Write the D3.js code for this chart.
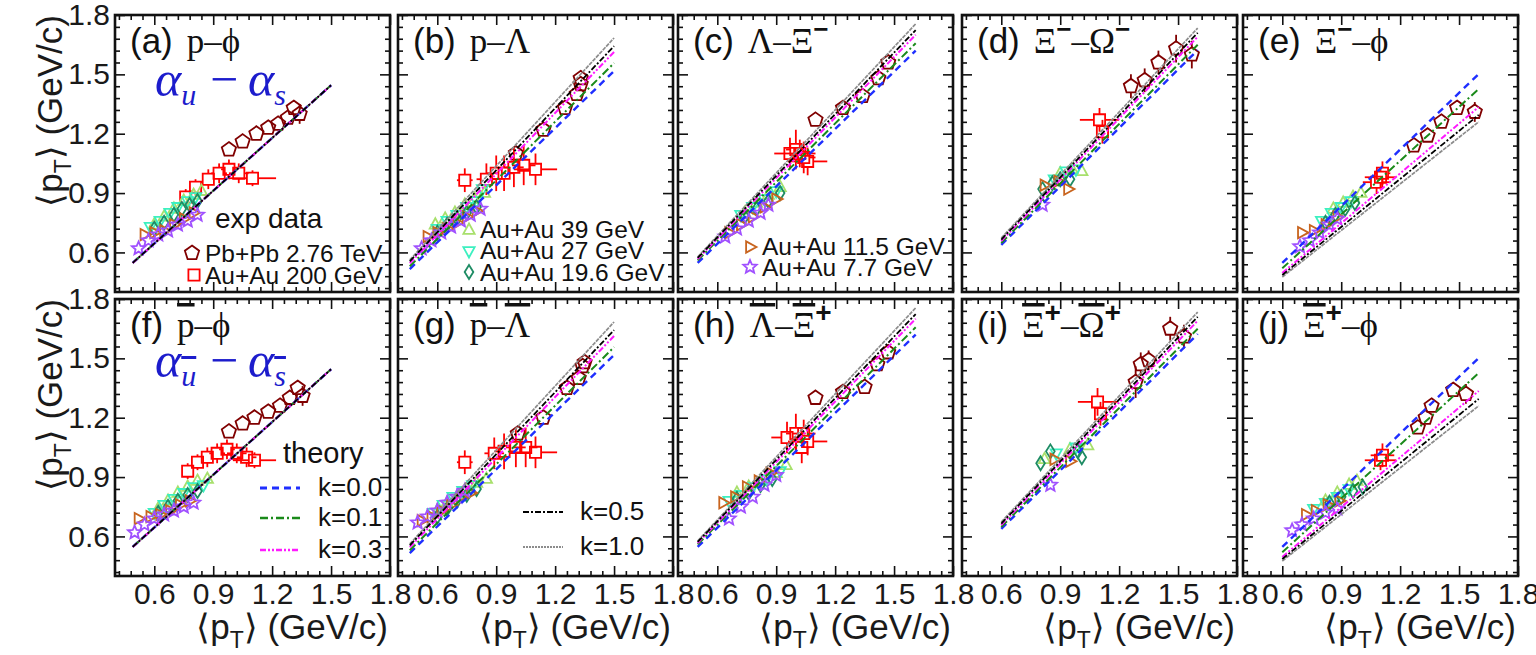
<!DOCTYPE html>
<html><head><meta charset="utf-8">
<script src="https://cdn.jsdelivr.net/npm/d3@7"></script>
<style>body{margin:0;background:#fff}svg{display:block}</style>
</head><body><svg id="c" width="1536" height="655"></svg>
<script>
// ---------------- data ----------------
const seriesNames = ["Pb+Pb 2.76 TeV","Au+Au 200 GeV","Au+Au 39 GeV","Au+Au 27 GeV","Au+Au 19.6 GeV","Au+Au 11.5 GeV","Au+Au 7.7 GeV"];
const kLabels = ["k=0.0","k=0.1","k=0.3","k=0.5","k=1.0"];
const xTickValues = [0.6,0.9,1.2,1.5,1.8];
const yTickValues = [0.6,0.9,1.2,1.5,1.8];
const axisDomain = [0.4,1.8];
const panelIds = ["(a)","(b)","(c)","(d)","(e)","(f)","(g)","(h)","(i)","(j)"];
// title segments: [text, flags] b = overline, s = superscript
const panelTitles = [
  [["p",""],["–",""],["ϕ",""]],
  [["p",""],["–",""],["Λ",""]],
  [["Λ",""],["–",""],["Ξ",""],["−","s"]],
  [["Ξ",""],["−","s"],["–",""],["Ω",""],["−","s"]],
  [["Ξ",""],["−","s"],["–",""],["ϕ",""]],
  [["p","b"],["–",""],["ϕ",""]],
  [["p","b"],["–",""],["Λ","b"]],
  [["Λ","b"],["–",""],["Ξ","b"],["+","s"]],
  [["Ξ","b"],["+","s"],["–",""],["Ω","b"],["+","s"]],
  [["Ξ","b"],["+","s"],["–",""],["ϕ",""]]
];
const clusterErr = [0.012, 0.015];
// rows: [series, x, y, ex, ey]
const dataA = [[0,0.98,1.12,0.01,0.025],[0,1.05,1.16,0.01,0.025],[0,1.12,1.2,0.01,0.025],[0,1.18,1.23,0.01,0.025],[0,1.23,1.25,0.01,0.025],[0,1.28,1.28,0.01,0.03],[0,1.31,1.33,0.015,0.035],[0,1.34,1.3,0.015,0.05],
 [1,0.76,0.88,0.02,0.04],[1,0.81,0.93,0.03,0.04],[1,0.875,0.97,0.03,0.05],[1,0.93,1.0,0.04,0.05],[1,0.98,1.02,0.04,0.05],[1,1.03,1.0,0.05,0.05],[1,1.1,0.975,0.12,0.04],
 [2,0.6,0.74],[2,0.65,0.78],[2,0.7,0.82],[2,0.75,0.86],[2,0.8,0.89],[2,0.84,0.91],
 [3,0.58,0.73],[3,0.63,0.76],[3,0.68,0.8],[3,0.72,0.83],[3,0.77,0.86],[3,0.81,0.88],
 [4,0.6,0.72],[4,0.65,0.75],[4,0.7,0.79],[4,0.74,0.82],[4,0.78,0.84],[4,0.82,0.86],
 [5,0.55,0.69],[5,0.6,0.7],[5,0.65,0.71],[5,0.7,0.74],[5,0.75,0.77],[5,0.8,0.8],
 [6,0.52,0.62],[6,0.57,0.66],[6,0.62,0.69],[6,0.67,0.71],[6,0.72,0.74],[6,0.77,0.76],[6,0.82,0.79]];
const dataB = [[0,1.0,1.1,0.01,0.02],[0,1.14,1.22,0.01,0.02],[0,1.25,1.33,0.01,0.02],[0,1.31,1.4,0.01,0.025],[0,1.33,1.45,0.01,0.03],[0,1.33,1.48,0.01,0.03],
 [1,0.74,0.965,0.04,0.06],[1,0.85,0.97,0.05,0.08],[1,0.9,1.0,0.05,0.09],[1,0.94,1.0,0.05,0.09],[1,0.99,1.03,0.05,0.1],[1,1.04,1.04,0.06,0.1],[1,1.1,1.02,0.11,0.08],
 [2,0.59,0.74],[2,0.64,0.77],[2,0.69,0.8],[2,0.74,0.84],[2,0.79,0.87],[2,0.84,0.9],
 [3,0.6,0.72],[3,0.65,0.76],[3,0.7,0.79],[3,0.75,0.83],[3,0.8,0.86],[3,0.83,0.92],
 [4,0.6,0.7],[4,0.65,0.74],[4,0.7,0.77],[4,0.75,0.8],[4,0.8,0.83],
 [5,0.55,0.68],[5,0.6,0.7],[5,0.65,0.72],[5,0.7,0.75],[5,0.75,0.78],[5,0.8,0.81],
 [6,0.52,0.62],[6,0.57,0.66],[6,0.62,0.7],[6,0.67,0.73],[6,0.72,0.76],[6,0.77,0.79],[6,0.82,0.82]];
const dataC = [[0,1.1,1.27,0.01,0.02],[0,1.24,1.33,0.01,0.02],[0,1.34,1.39,0.01,0.02],[0,1.42,1.48,0.01,0.02],[0,1.47,1.56,0.01,0.025],
 [1,0.97,1.1,0.08,0.08],[1,1.0,1.12,0.05,0.1],[1,1.02,1.1,0.08,0.07],[1,1.04,1.08,0.06,0.08],[1,1.06,1.06,0.1,0.07],
 [2,0.74,0.8],[2,0.8,0.85],[2,0.86,0.89],[2,0.92,0.93],
 [3,0.72,0.79],[3,0.78,0.83],[3,0.84,0.87],[3,0.9,0.91],
 [4,0.74,0.78],[4,0.8,0.82],[4,0.86,0.86],[4,0.92,0.9],
 [5,0.66,0.7],[5,0.72,0.74],[5,0.78,0.78],[5,0.84,0.83],[5,0.9,0.87],
 [6,0.64,0.68],[6,0.7,0.72],[6,0.76,0.76],[6,0.82,0.8],[6,0.86,0.84]];
const dataD = [[0,1.26,1.44,0.01,0.06],[0,1.33,1.47,0.01,0.06],[0,1.4,1.56,0.01,0.06],[0,1.49,1.63,0.01,0.07],[0,1.57,1.6,0.01,0.07],
 [1,1.1,1.27,0.1,0.06],[1,1.115,1.21,0.03,0.06],
 [2,0.9,1.0],[2,0.96,1.02],[2,1.01,1.01],
 [3,0.87,0.97],[3,0.93,1.01],[3,0.98,1.02],
 [4,0.81,0.92],[4,0.86,0.95],[4,0.9,0.97],[4,0.95,0.97],
 [5,0.82,0.94],[5,0.89,0.96],[5,0.94,0.92],
 [6,0.81,0.84]];
const dataE = [[0,1.27,1.14,0.01,0.03],[0,1.34,1.19,0.01,0.03],[0,1.41,1.26,0.01,0.03],[0,1.49,1.33,0.01,0.035],[0,1.58,1.31,0.01,0.05],
 [1,1.08,0.955,0.07,0.06],[1,1.1,0.98,0.08,0.05],[1,1.11,1.0,0.04,0.06],
 [2,0.86,0.82],[2,0.91,0.85],[2,0.96,0.88],[2,1.0,0.9],
 [3,0.8,0.76],[3,0.85,0.8],[3,0.9,0.83],[3,0.95,0.86],
 [4,0.82,0.75],[4,0.87,0.79],[4,0.92,0.82],[4,0.97,0.85],
 [5,0.7,0.7],[5,0.76,0.71],[5,0.82,0.74],[5,0.88,0.78],
 [6,0.69,0.63],[6,0.74,0.66],[6,0.79,0.7],[6,0.84,0.74],[6,0.88,0.77]];
const dataF = [[0,0.98,1.13,0.01,0.025],[0,1.05,1.17,0.01,0.025],[0,1.11,1.2,0.01,0.025],[0,1.18,1.23,0.01,0.025],[0,1.24,1.26,0.01,0.025],[0,1.29,1.3,0.01,0.03],[0,1.33,1.35,0.015,0.035],[0,1.355,1.31,0.015,0.05],
 [1,0.77,0.93,0.02,0.04],[1,0.82,0.975,0.03,0.04],[1,0.87,1.0,0.03,0.05],[1,0.92,1.02,0.04,0.05],[1,0.97,1.04,0.04,0.05],[1,1.02,1.02,0.05,0.05],[1,1.07,1.0,0.05,0.05],[1,1.11,0.985,0.11,0.04],
 [2,0.62,0.74],[2,0.67,0.78],[2,0.72,0.82],[2,0.77,0.85],[2,0.82,0.88],[2,0.87,0.89],
 [3,0.6,0.72],[3,0.65,0.76],[3,0.7,0.79],[3,0.75,0.82],[3,0.8,0.85],[3,0.85,0.86],
 [4,0.62,0.72],[4,0.67,0.75],[4,0.72,0.78],[4,0.77,0.81],[4,0.82,0.83],
 [5,0.52,0.69],[5,0.58,0.7],[5,0.63,0.71],[5,0.68,0.73],[5,0.73,0.76],[5,0.78,0.78],
 [6,0.5,0.62],[6,0.55,0.66],[6,0.6,0.69],[6,0.65,0.71],[6,0.7,0.73],[6,0.75,0.75],[6,0.8,0.77]];
const dataG = [[0,1.01,1.12,0.01,0.02],[0,1.14,1.2,0.01,0.02],[0,1.26,1.35,0.01,0.02],[0,1.32,1.4,0.01,0.025],[0,1.34,1.46,0.01,0.03],[0,1.35,1.48,0.01,0.03],
 [1,0.74,0.975,0.04,0.06],[1,0.89,1.02,0.05,0.08],[1,0.94,1.03,0.05,0.09],[1,1.0,1.05,0.05,0.1],[1,1.05,1.05,0.06,0.1],[1,1.1,1.025,0.11,0.08],
 [2,0.6,0.73],[2,0.65,0.77],[2,0.7,0.8],[2,0.75,0.84],[2,0.8,0.87],[2,0.85,0.89],
 [3,0.58,0.72],[3,0.63,0.76],[3,0.68,0.8],[3,0.73,0.83],[3,0.78,0.86],
 [4,0.6,0.7],[4,0.65,0.74],[4,0.7,0.78],[4,0.75,0.81],[4,0.8,0.84],
 [5,0.52,0.68],[5,0.57,0.7],[5,0.62,0.73],[5,0.67,0.76],[5,0.72,0.8],[5,0.77,0.82],
 [6,0.5,0.67],[6,0.55,0.7],[6,0.6,0.73],[6,0.65,0.77],[6,0.7,0.8],[6,0.74,0.83]];
const dataH = [[0,1.1,1.3,0.01,0.02],[0,1.24,1.33,0.01,0.02],[0,1.35,1.355,0.01,0.02],[0,1.415,1.47,0.01,0.02],[0,1.47,1.53,0.01,0.025],
 [1,0.955,1.1,0.08,0.08],[1,1.0,1.12,0.05,0.1],[1,1.04,1.12,0.06,0.07],[1,1.03,1.05,0.04,0.08],[1,1.06,1.08,0.1,0.07],
 [2,0.7,0.82],[2,0.76,0.85],[2,0.82,0.88],[2,0.9,0.92],[2,0.95,0.96],
 [3,0.66,0.78],[3,0.72,0.81],[3,0.78,0.85],[3,0.85,0.89],[3,0.92,0.93],
 [4,0.7,0.79],[4,0.76,0.82],[4,0.82,0.86],[4,0.88,0.89],
 [5,0.63,0.77],[5,0.69,0.8],[5,0.75,0.85],[5,0.81,0.88],[5,0.87,0.92],
 [6,0.66,0.69],[6,0.72,0.75],[6,0.78,0.8],[6,0.84,0.86],[6,0.9,0.91]];
const dataI = [[0,1.284,1.38,0.01,0.08],[0,1.31,1.47,0.01,0.06],[0,1.35,1.49,0.01,0.05],[0,1.46,1.65,0.01,0.06],[0,1.53,1.61,0.01,0.06],
 [1,1.09,1.28,0.1,0.07],[1,1.105,1.22,0.03,0.06],
 [2,0.82,0.99],[2,0.95,1.04],[2,1.04,1.06],
 [3,0.88,1.02],[3,0.98,1.05],
 [4,0.8,0.97],[4,0.85,1.03],[4,0.99,1.03],[4,1.01,1.0],
 [5,0.87,0.99],[5,0.95,0.98],
 [6,0.85,0.86]];
const dataJ = [[0,1.29,1.15,0.01,0.03],[0,1.33,1.2,0.01,0.03],[0,1.36,1.26,0.01,0.03],[0,1.47,1.34,0.01,0.035],[0,1.535,1.32,0.01,0.05],
 [1,1.1,0.985,0.08,0.05],[1,1.11,1.01,0.06,0.06],
 [2,0.82,0.78],[2,0.88,0.82],[2,0.94,0.86],[2,0.98,0.88],
 [3,0.76,0.74],[3,0.82,0.77],[3,0.88,0.8],[3,0.94,0.84],
 [4,0.84,0.77],[4,0.9,0.8],[4,0.96,0.83],[4,1.01,0.85],
 [5,0.72,0.71],[5,0.77,0.73],[5,0.83,0.76],[5,0.89,0.78],
 [6,0.65,0.63],[6,0.7,0.66],[6,0.76,0.69],[6,0.82,0.72],[6,0.88,0.74]];
const panelData = [dataA,dataB,dataC,dataD,dataE,dataF,dataG,dataH,dataI,dataJ];
// theory lines per column (same for both rows): x range, y at start/end for k = 0.0,0.1,0.3,0.5,1.0
const theoryXRange = [[0.49,1.5],[0.46,1.5],[0.5,1.61],[0.6,1.6],[0.6,1.6]];
const theoryYStart = [[0.547,0.547,0.547,0.547,0.547],[0.516,0.53,0.545,0.555,0.562],[0.547,0.56,0.567,0.572,0.577],[0.638,0.648,0.658,0.665,0.673],[0.547,0.52,0.496,0.486,0.476]];
const theoryYEnd = [[1.445,1.445,1.445,1.445,1.445],[1.517,1.557,1.613,1.643,1.684],[1.62,1.657,1.70,1.724,1.755],[1.623,1.65,1.69,1.71,1.734],[1.502,1.426,1.335,1.295,1.26]];

// ---------------- styles ----------------
const seriesColors = ["#800000","#ff0000","#a8e06c","#3cf0c0","#1e8c64","#c8641e","#a050ff"];
const seriesShapes = ["pentagon","square","triUp","triDown","diamond","triRight","star"];
const kColors = ["#1f2fff","#1a8a1a","#ff1aff","#000000","#8c8c8c"];
const kDash = ["7,5","8,3,2,3","6,2,2,2,2,2","6,2,2,2","4,1"];
const kLegendDash = ["7,5","8,3,2,3","6,2,2,2,2,2","6,2,2,2","2,1"];
const kWidth = [2.4,2,2,1.8,1.7];
const kDrawOrder = [4,0,1,2,3];
const sans = "'Liberation Sans', Arial, Helvetica, sans-serif";
const serif = "'Liberation Serif', 'Times New Roman', serif";
const blueText = "#1c1ccc";

const svg = d3.select("#c");
const colLeft = [115, 398, 678, 962, 1243];
const rowTop = [15, 299];
const PW = 275, PH = 277;

function shapePoints(type, r) {
  const P = [];
  if (type === "pentagon") { for (let k=0;k<5;k++){const a=-Math.PI/2+k*2*Math.PI/5; P.push([r*Math.cos(a), r*Math.sin(a)]);} }
  else if (type === "square") { const s=r*0.8; P.push([-s,-s],[s,-s],[s,s],[-s,s]); }
  else if (type === "triUp") { P.push([0,-r],[r*0.87,r*0.6],[-r*0.87,r*0.6]); }
  else if (type === "triDown") { P.push([0,r],[r*0.87,-r*0.6],[-r*0.87,-r*0.6]); }
  else if (type === "triRight") { P.push([r,0],[-r*0.6,-r*0.87],[-r*0.6,r*0.87]); }
  else if (type === "diamond") { P.push([0,-r],[r*0.62,0],[0,r],[-r*0.62,0]); }
  else if (type === "star") { for (let k=0;k<10;k++){const a=-Math.PI/2+k*Math.PI/5; const rr=k%2?r*0.45:r; P.push([rr*Math.cos(a), rr*Math.sin(a)]);} }
  return P;
}
const markerR = [7.5,7,6.5,6.5,7,6.5,7];
const closedLine = d3.line().curve(d3.curveLinearClosed);
function drawMarker(g, s, px, py) {
  g.append("path").attr("d", closedLine(shapePoints(seriesShapes[s], markerR[s])))
    .attr("transform", `translate(${px},${py})`)
    .attr("fill","none").attr("stroke", seriesColors[s]).attr("stroke-width",1.8);
}

panelData.forEach((rows, i) => {
  const col = i % 5, row = Math.floor(i / 5);
  const left = colLeft[col], top = rowTop[row];
  const x = d3.scaleLinear().domain(axisDomain).range([left, left+PW]);
  const y = d3.scaleLinear().domain(axisDomain).range([top+PH, top]);
  const g = svg.append("g");
  const clipId = "clip"+i;
  g.append("clipPath").attr("id", clipId).append("rect").attr("x",left).attr("y",top).attr("width",PW).attr("height",PH);
  const plot = g.append("g").attr("clip-path", `url(#${clipId})`);

  rows.forEach(r => {
    const s = r[0], px = x(r[1]), py = y(r[2]);
    const ex = r.length > 3 ? r[3] : clusterErr[0];
    const ey = r.length > 3 ? r[4] : clusterErr[1];
    const rr = markerR[s] * 0.8;
    const x0 = x(r[1]-ex), x1 = x(r[1]+ex), y0 = y(r[2]-ey), y1 = y(r[2]+ey);
    const segs = [];
    if (px - x0 > rr) segs.push([x0,py,px-rr,py]);
    if (x1 - px > rr) segs.push([px+rr,py,x1,py]);
    if (y0 - py > rr) segs.push([px,py+rr,px,y0]);
    if (py - y1 > rr) segs.push([px,y1,px,py-rr]);
    segs.forEach(sg => plot.append("line").attr("x1",sg[0]).attr("y1",sg[1]).attr("x2",sg[2]).attr("y2",sg[3])
      .attr("stroke", seriesColors[s]).attr("stroke-width",1.8));
    drawMarker(plot, s, px, py);
  });

  const line = d3.line().x(d => x(d[0])).y(d => y(d[1]));
  kDrawOrder.forEach(k => {
    const pts = [[theoryXRange[col][0], theoryYStart[col][k]], [theoryXRange[col][1], theoryYEnd[col][k]]];
    plot.append("path").attr("d", line(pts)).attr("fill","none")
      .attr("stroke", kColors[k]).attr("stroke-width", kWidth[k]).attr("stroke-dasharray", kDash[k]);
  });

  const minorVals = d3.range(-3, 21).filter(j => j % 5 !== 0).map(j => +(0.6 + 0.06*j).toFixed(2));
  const mk = (axisFn, scale, vals, size) => axisFn(scale).tickValues(vals).tickSize(size).tickFormat("");
  const axG = g.append("g").attr("font-family", sans);
  [[d3.axisBottom, x, `translate(0,${top+PH})`],[d3.axisTop, x, `translate(0,${top})`],
   [d3.axisLeft, y, `translate(${left},0)`],[d3.axisRight, y, `translate(${left+PW},0)`]].forEach(([fn, sc, tr]) => {
    axG.append("g").attr("transform", tr).call(mk(fn, sc, minorVals, -5)).call(a => a.select(".domain").remove());
    axG.append("g").attr("transform", tr).call(mk(fn, sc, fn === d3.axisBottom || fn === d3.axisTop ? xTickValues : yTickValues, -10)).call(a => a.select(".domain").remove());
  });
  axG.selectAll("line").attr("stroke","#111").attr("stroke-width",1.6);

  if (row === 1) {
    const ax = d3.axisBottom(x).tickValues(xTickValues).tickSize(0).tickPadding(7).tickFormat(d3.format(".1f"));
    const lab = g.append("g").attr("transform", `translate(0,${top+PH})`).call(ax);
    lab.select(".domain").remove();
    lab.selectAll("text").attr("font-family", sans).attr("font-size", 30).attr("fill","#1a1a1a");
  }
  if (col === 0) {
    const ay = d3.axisLeft(y).tickValues(yTickValues).tickSize(0).tickPadding(5).tickFormat(d3.format(".1f"));
    const lab = g.append("g").attr("transform", `translate(${left},0)`).call(ay);
    lab.select(".domain").remove();
    lab.selectAll("text").attr("font-family", sans).attr("font-size", 30).attr("fill","#1a1a1a");
  }

  g.append("rect").attr("x",left).attr("y",top).attr("width",PW).attr("height",PH)
    .attr("fill","none").attr("stroke","#111").attr("stroke-width",2.6);

  const t = g.append("text").attr("x", left+15).attr("y", top+38).attr("font-size", 35).attr("fill","#111");
  t.append("tspan").attr("font-family", sans).text(panelIds[i]);
  let shifted = false, first = true;
  panelTitles[i].forEach(([txt, fl]) => {
    const ts = t.append("tspan").text(txt);
    if (first) { ts.attr("dx", 14); first = false; }
    if (fl.includes("s")) {
      ts.attr("font-family", sans).attr("font-size", txt === "+" ? 28 : 26).attr("dy", -15).attr("font-weight", "bold");
      shifted = true;
    } else {
      ts.attr("font-family", serif);
      if (shifted) { ts.attr("dy", 15); shifted = false; }
    }
    if (fl.includes("b")) ts.style("text-decoration", "overline");
  });

  if (row === 1) {
    const xt = g.append("text").attr("x", left+PW-2).attr("y", 639).attr("text-anchor","end")
      .attr("font-family", sans).attr("font-size", 35).attr("fill","#1a1a1a");
    xt.append("tspan").text("⟨p");
    xt.append("tspan").attr("font-size", 23).attr("dy", 9).text("T");
    xt.append("tspan").attr("dy", -9).text("⟩ (GeV/c)");
  }
  if (col === 0) {
    const yt = g.append("text").attr("transform", `translate(62,${top}) rotate(-90)`).attr("text-anchor","end")
      .attr("font-family", sans).attr("font-size", 35).attr("fill","#1a1a1a");
    yt.append("tspan").text("⟨p");
    yt.append("tspan").attr("font-size", 23).attr("dy", 9).text("T");
    yt.append("tspan").attr("dy", -9).text("⟩ (GeV/c)");
  }
});

function alphaLabel(yb, bar) {
  const t = svg.append("text").attr("y", yb).attr("font-family", serif).attr("font-style","italic")
    .attr("font-size", 50).attr("fill", blueText);
  t.append("tspan").attr("x", 155).text("α");
  const s1 = t.append("tspan").attr("font-size", 30).attr("dy", 9).text("u");
  t.append("tspan").attr("x", 210).attr("dy", -9).attr("font-style","normal").text("−");
  t.append("tspan").attr("x", 248).text("α");
  const s2 = t.append("tspan").attr("font-size", 30).attr("dy", 9).text("s");
  if (bar) { s1.style("text-decoration","overline"); s2.style("text-decoration","overline"); }
}
alphaLabel(96, false);
alphaLabel(377, true);

const leg = svg.append("g").attr("font-family", sans).attr("fill","#111");
leg.append("text").attr("x", 215).attr("y", 228).attr("font-size", 28).text("exp data");
[[0,192,253,205,262],[1,194,275,205,284],[2,469,230,480,238],[3,469,251,480,259],[4,469,272,480,281],[5,750,247,762,255],[6,750,267,762,276]]
  .forEach(([s, mx, my, tx, ty]) => {
    drawMarker(leg, s, mx, my);
    leg.append("text").attr("x", tx).attr("y", ty).attr("font-size", 24.5).text(seriesNames[s]);
  });
leg.append("text").attr("x", 283).attr("y", 463).attr("font-size", 29).text("theory");
[[0,260,300,488,318,496],[1,260,300,518,318,526],[2,260,300,550,318,558],[3,523,563,512,580,520],[4,523,563,547,580,555]]
  .forEach(([k, x1, x2, ly, tx, ty]) => {
    leg.append("path").attr("d", d3.line()([[x1,ly],[x2,ly]])).attr("stroke", kColors[k])
      .attr("stroke-width", kWidth[k]+0.4).attr("stroke-dasharray", kLegendDash[k]).attr("fill","none");
    leg.append("text").attr("x", tx).attr("y", ty).attr("font-size", 26).text(kLabels[k]);
  });
</script></body></html>
